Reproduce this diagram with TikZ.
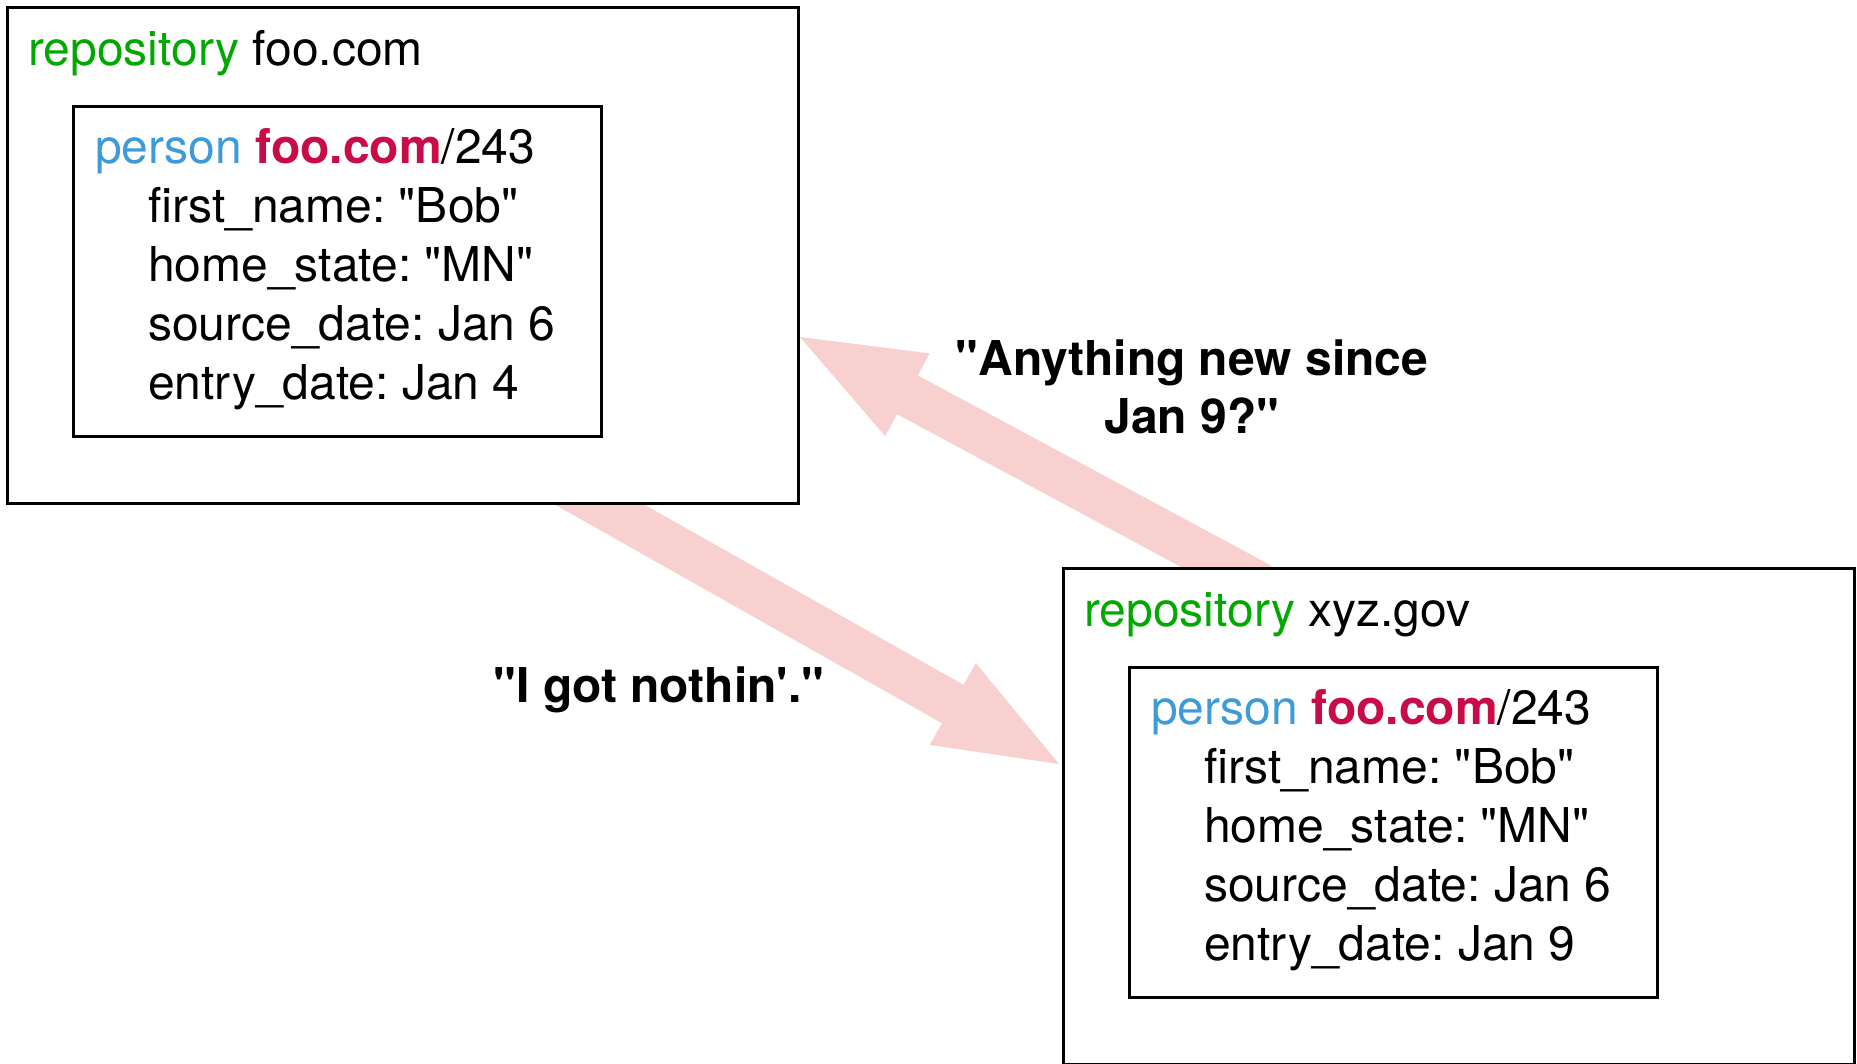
\documentclass[tikz,border=0pt]{standalone}
\usepackage{fontspec}
\setmainfont{TeX Gyre Heros}[Ligatures=TeXOff]
\usetikzlibrary{calc}
\definecolor{repogreen}{RGB}{0,168,0}
\definecolor{personblue}{RGB}{62,155,218}
\definecolor{domred}{RGB}{200,12,72}
\definecolor{arrowpink}{RGB}{247,208,207}
\newcommand\fatarrow[2]{%
  \coordinate (#1-#2-b) at ($(#2)!122pt!(#1)$);
  \fill[arrowpink] ($(#1)!22pt!90:(#2)$) -- ($(#1-#2-b)!22pt!90:(#2)$)
    -- ($(#1-#2-b)!47pt!90:(#2)$) -- (#2) -- ($(#1-#2-b)!47pt!-90:(#2)$)
    -- ($(#1-#2-b)!22pt!-90:(#2)$) -- ($(#1)!22pt!-90:(#2)$) -- cycle;
}
\frenchspacing
\begin{document}
\frenchspacing
\begin{tikzpicture}[x=1pt,y=-1pt,
  box/.style={draw=black, line width=2.5pt, fill=white, inner sep=0pt, anchor=north west},
  txt/.style={inner sep=0pt, anchor=base west, font=\fontsize{48}{58}\selectfont},
  say/.style={inner sep=0pt, anchor=base, font=\fontsize{48}{58}\selectfont\bfseries}]
\useasboundingbox (0,0) rectangle (1857,1063);
% connectors (drawn first, under the boxes)
\coordinate (t1) at (556,480);
\coordinate (h1) at (1059,764);
\coordinate (t2) at (1261,585);
\coordinate (h2) at (800,337);
\fatarrow{t1}{h1}
\fatarrow{t2}{h2}
% repository foo.com
\node[box, minimum width=791pt, minimum height=496pt] (repo1) at (6,6) {};
\node[box, minimum width=528pt, minimum height=330pt] (pers1) at (72,105) {};
\node[txt] (repo1t) at (28,65) {\textcolor{repogreen}{repository} foo.com};
\node[txt] (p1h) at (95,163) {\textcolor{personblue}{person} \textcolor{domred}{\bfseries foo.com}/243};
\node[txt] (p1a) at (148,222) {first\_name: "Bob"};
\node[txt] (p1b) at (148,281) {home\_state: "MN"};
\node[txt] (p1c) at (148,340) {source\_date: Jan 6};
\node[txt] (p1d) at (148,399) {entry\_date: Jan 4};
% repository xyz.gov
\node[box, minimum width=791pt, minimum height=496pt] (repo2) at (1062,567) {};
\node[box, minimum width=528pt, minimum height=330pt] (pers2) at (1128,666) {};
\node[txt] (repo2t) at (1084,626) {\textcolor{repogreen}{repository} xyz.gov};
\node[txt] (p2h) at (1151,724) {\textcolor{personblue}{person} \textcolor{domred}{\bfseries foo.com}/243};
\node[txt] (p2a) at (1204,783) {first\_name: "Bob"};
\node[txt] (p2b) at (1204,842) {home\_state: "MN"};
\node[txt] (p2c) at (1204,901) {source\_date: Jan 6};
\node[txt] (p2d) at (1204,960) {entry\_date: Jan 9};
% speech labels
\node[say] (ask1) at (1192,375) {"Anything new since};
\node[say] (ask2) at (1192,433) {Jan 9?"};
\node[say] (reply) at (659,702) {"I got nothin'."};
\end{tikzpicture}
\end{document}
